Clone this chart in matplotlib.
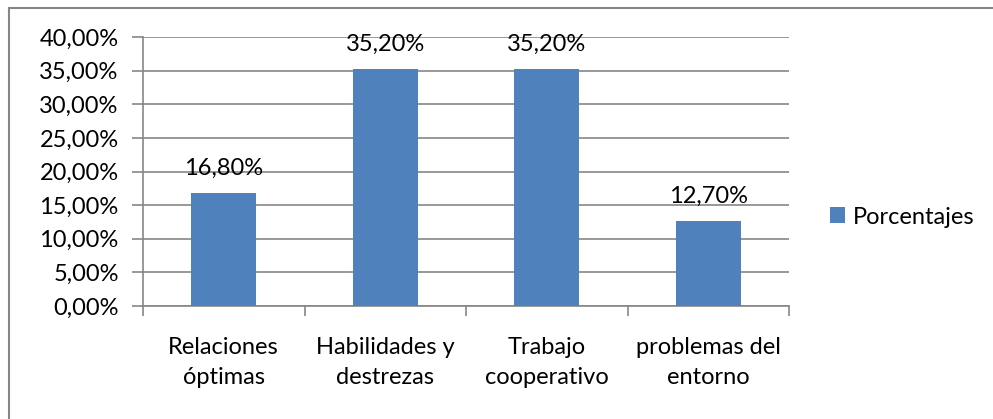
import matplotlib.pyplot as plt
from matplotlib.lines import Line2D
from matplotlib.ticker import FixedLocator

# datos
categorias = ["Relaciones\nóptimas", "Habilidades y\ndestrezas", "Trabajo\ncooperativo", "problemas del\nentorno"]
porcentajes = [0.168, 0.352, 0.352, 0.127]
etiquetas = ["16,80%", "35,20%", "35,20%", "12,70%"]
ticks_y = [0.0, 0.05, 0.10, 0.15, 0.20, 0.25, 0.30, 0.35, 0.40]
ticks_y_txt = ["0,00%", "5,00%", "10,00%", "15,00%", "20,00%", "25,00%", "30,00%", "35,00%", "40,00%"]
serie = "Porcentajes"

plt.rcParams["font.family"] = ["Lato", "DejaVu Sans"]
FS = 17.0
AZUL = "#4F81BD"
GRIS = "#868686"

W, H = 993, 419
fig = plt.figure(figsize=(W / 100, H / 100), dpi=100)

# area de trazado (pixeles del original)
x0, x1, y0, y1 = 143, 789, 37, 306
ax = fig.add_axes([x0 / W, 1 - y1 / H, (x1 - x0) / W, (y1 - y0) / H])

pos = list(range(len(categorias)))
ax.bar(pos, porcentajes, width=0.4, color=AZUL, zorder=3, label=serie)
for p, v, t in zip(pos, porcentajes, etiquetas):
    ax.text(p, v + 0.027, t, ha="center", va="baseline", fontsize=FS, zorder=4)

ax.set_xlim(-0.5, len(categorias) - 0.5)
ax.set_ylim(0, 0.40)
ax.set_yticks(ticks_y)
ax.set_yticklabels(ticks_y_txt, fontsize=FS)
ax.set_xticks(pos)
ax.set_xticklabels(categorias, fontsize=FS, linespacing=1.55)
ax.xaxis.set_minor_locator(FixedLocator([i - 0.5 for i in range(len(categorias) + 1)]))
ax.tick_params(axis="x", which="major", length=0, pad=22)
ax.tick_params(axis="x", which="minor", length=7, color=GRIS, width=1.2)
ax.tick_params(axis="y", length=8, color=GRIS, width=1.2, pad=9.5)
ax.yaxis.grid(True, color=GRIS, linewidth=1.2, zorder=0)
ax.set_axisbelow(True)
for s in ["top", "right"]:
    ax.spines[s].set_visible(False)
for s in ["left", "bottom"]:
    ax.spines[s].set_color(GRIS)
    ax.spines[s].set_linewidth(1.2)

ax.legend(loc="center left", bbox_to_anchor=(830 / W, 1 - 217 / H), bbox_transform=fig.transFigure,
          frameon=False, fontsize=FS, handlelength=0.65, handleheight=0.65, handletextpad=0.3,
          borderaxespad=0, borderpad=0)

# marco exterior del grafico
fig.add_artist(Line2D([9 / W, 9 / W], [0, 1 - 8 / H], color=GRIS, linewidth=1.5, transform=fig.transFigure))
fig.add_artist(Line2D([9 / W, 1], [1 - 8 / H, 1 - 8 / H], color=GRIS, linewidth=1.5, transform=fig.transFigure))

fig.savefig("out.png", dpi=100)
